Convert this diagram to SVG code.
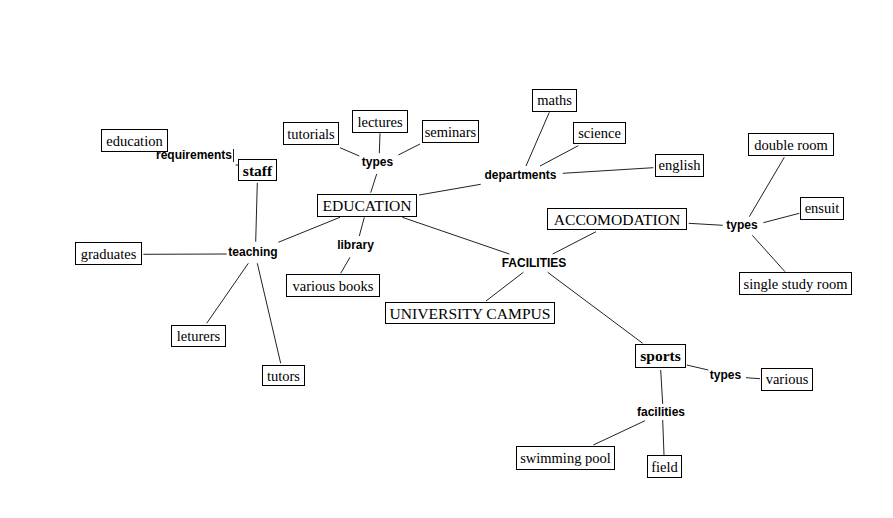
<svg xmlns="http://www.w3.org/2000/svg" width="893" height="518" viewBox="0 0 893 518">
<style>
.bx{fill:#fff;stroke:#000;stroke-width:1}
.t{font-family:"Liberation Serif","Times New Roman",serif;font-size:14.5px;fill:#000;text-anchor:middle}
.T{font-family:"Liberation Serif","Times New Roman",serif;font-size:15.6px;fill:#000;text-anchor:middle}
.tb{font-family:"Liberation Serif","Times New Roman",serif;font-size:15.5px;font-weight:bold;fill:#000;text-anchor:middle}
.l{font-family:"Liberation Sans",Arial,sans-serif;font-size:12px;font-weight:bold;fill:#000;text-anchor:middle}
.c line{stroke:#222;stroke-width:1}
</style>
<rect width="893" height="518" fill="#fff"/>
<g id="connectors" class="c">
<line x1="233.5" y1="149" x2="233.5" y2="162"/>
<line x1="235.5" y1="165" x2="238" y2="165"/>
<line x1="257.3" y1="182.7" x2="255.7" y2="241.7"/>
<line x1="143.3" y1="254.3" x2="226.7" y2="254"/>
<line x1="278.3" y1="242.3" x2="340" y2="217.3"/>
<line x1="248.3" y1="263.3" x2="206.7" y2="323.3"/>
<line x1="257.3" y1="263.3" x2="280.7" y2="363.3"/>
<line x1="340" y1="147.7" x2="359.3" y2="156"/>
<line x1="380" y1="133.3" x2="379.3" y2="153.3"/>
<line x1="420" y1="144" x2="398.3" y2="155"/>
<line x1="376.7" y1="174" x2="370.7" y2="192.7"/>
<line x1="419" y1="195" x2="480.7" y2="184.3"/>
<line x1="549.3" y1="112.3" x2="526" y2="166"/>
<line x1="578.3" y1="145.7" x2="540" y2="166"/>
<line x1="562.7" y1="173.3" x2="653.3" y2="167.7"/>
<line x1="364.3" y1="217.3" x2="359.3" y2="236"/>
<line x1="350" y1="257.3" x2="340.7" y2="273.3"/>
<line x1="402.3" y1="217.3" x2="509.3" y2="254"/>
<line x1="523.3" y1="272.3" x2="486" y2="301"/>
<line x1="596" y1="231.7" x2="552.7" y2="254"/>
<line x1="547.7" y1="272.3" x2="642.7" y2="343.3"/>
<line x1="688.7" y1="223.3" x2="722.7" y2="225.3"/>
<line x1="749.3" y1="216.7" x2="784.3" y2="157.3"/>
<line x1="763.3" y1="222.7" x2="799.3" y2="213.3"/>
<line x1="752.3" y1="235.3" x2="785" y2="271.7"/>
<line x1="686.7" y1="365" x2="708.3" y2="370"/>
<line x1="746" y1="377.7" x2="760" y2="378.7"/>
<line x1="660.7" y1="370" x2="662.7" y2="404"/>
<line x1="645" y1="420.7" x2="593.3" y2="445"/>
<line x1="662.7" y1="420" x2="664" y2="455"/>
</g>
<g id="education"><rect class="bx" x="101.5" y="129.5" width="66" height="22"/><text class="t" x="134.5" y="145.5">education</text></g>
<g id="requirements"><text class="l" x="194" y="158.5">requirements</text></g>
<g id="staff"><rect class="bx" x="238.5" y="159.5" width="38" height="21"/><text class="tb" x="257.5" y="175.5">staff</text></g>
<g id="teaching"><text class="l" x="253" y="256">teaching</text></g>
<g id="graduates"><rect class="bx" x="75.5" y="242.5" width="66" height="22"/><text class="t" x="108.5" y="259">graduates</text></g>
<g id="leturers"><rect class="bx" x="171.5" y="325.5" width="54" height="21"/><text class="t" x="198.5" y="341">leturers</text></g>
<g id="tutors"><rect class="bx" x="262.5" y="365.5" width="42" height="20"/><text class="t" x="283.5" y="380.5">tutors</text></g>
<g id="tutorials"><rect class="bx" x="283.5" y="122.5" width="55" height="22"/><text class="t" x="311" y="138.5">tutorials</text></g>
<g id="lectures"><rect class="bx" x="352.5" y="110.5" width="55" height="22"/><text class="t" x="380" y="126.5">lectures</text></g>
<g id="seminars"><rect class="bx" x="422.5" y="120.5" width="56" height="22"/><text class="t" x="450.5" y="136.5">seminars</text></g>
<g id="types-edu"><text class="l" x="377.5" y="166">types</text></g>
<g id="EDUCATION"><rect class="bx" x="317.5" y="194.5" width="99" height="22"/><text class="T" x="367" y="211">EDUCATION</text></g>
<g id="library"><text class="l" x="355.5" y="249">library</text></g>
<g id="various-books"><rect class="bx" x="286.5" y="274.5" width="93" height="22"/><text class="t" x="333" y="290.5">various books</text></g>
<g id="departments"><text class="l" x="520.5" y="179">departments</text></g>
<g id="maths"><rect class="bx" x="532.5" y="89.5" width="44" height="22"/><text class="t" x="554.5" y="105">maths</text></g>
<g id="science"><rect class="bx" x="573.5" y="122.5" width="52" height="21"/><text class="t" x="599.5" y="138">science</text></g>
<g id="english"><rect class="bx" x="655.5" y="154.5" width="48" height="22"/><text class="t" x="679.5" y="170">english</text></g>
<g id="FACILITIES"><text class="l" x="534" y="267">FACILITIES</text></g>
<g id="UNIVERSITY-CAMPUS"><rect class="bx" x="385.5" y="302.5" width="169" height="21"/><text class="T" x="470" y="318.5">UNIVERSITY CAMPUS</text></g>
<g id="ACCOMODATION"><rect class="bx" x="547.5" y="208.5" width="139" height="21"/><text class="T" x="617" y="224.5">ACCOMODATION</text></g>
<g id="types-acc"><text class="l" x="742" y="229">types</text></g>
<g id="double-room"><rect class="bx" x="748.5" y="133.5" width="85" height="22"/><text class="t" x="791" y="149.5">double room</text></g>
<g id="ensuit"><rect class="bx" x="800.5" y="197.5" width="43" height="22"/><text class="t" x="822" y="213">ensuit</text></g>
<g id="single-study-room"><rect class="bx" x="739.5" y="272.5" width="112" height="22"/><text class="t" x="795.5" y="288.5">single study room</text></g>
<g id="sports"><rect class="bx" x="635.5" y="344.5" width="50" height="23"/><text class="tb" x="660.5" y="361">sports</text></g>
<g id="types-sports"><text class="l" x="725.5" y="379">types</text></g>
<g id="various"><rect class="bx" x="761.5" y="368.5" width="51" height="22"/><text class="t" x="787" y="384">various</text></g>
<g id="facilities"><text class="l" x="661" y="416">facilities</text></g>
<g id="swimming-pool"><rect class="bx" x="516.5" y="446.5" width="98" height="23"/><text class="t" x="565.5" y="463">swimming pool</text></g>
<g id="field"><rect class="bx" x="647.5" y="455.5" width="34" height="22"/><text class="t" x="664.5" y="471.5">field</text></g>
</svg>
